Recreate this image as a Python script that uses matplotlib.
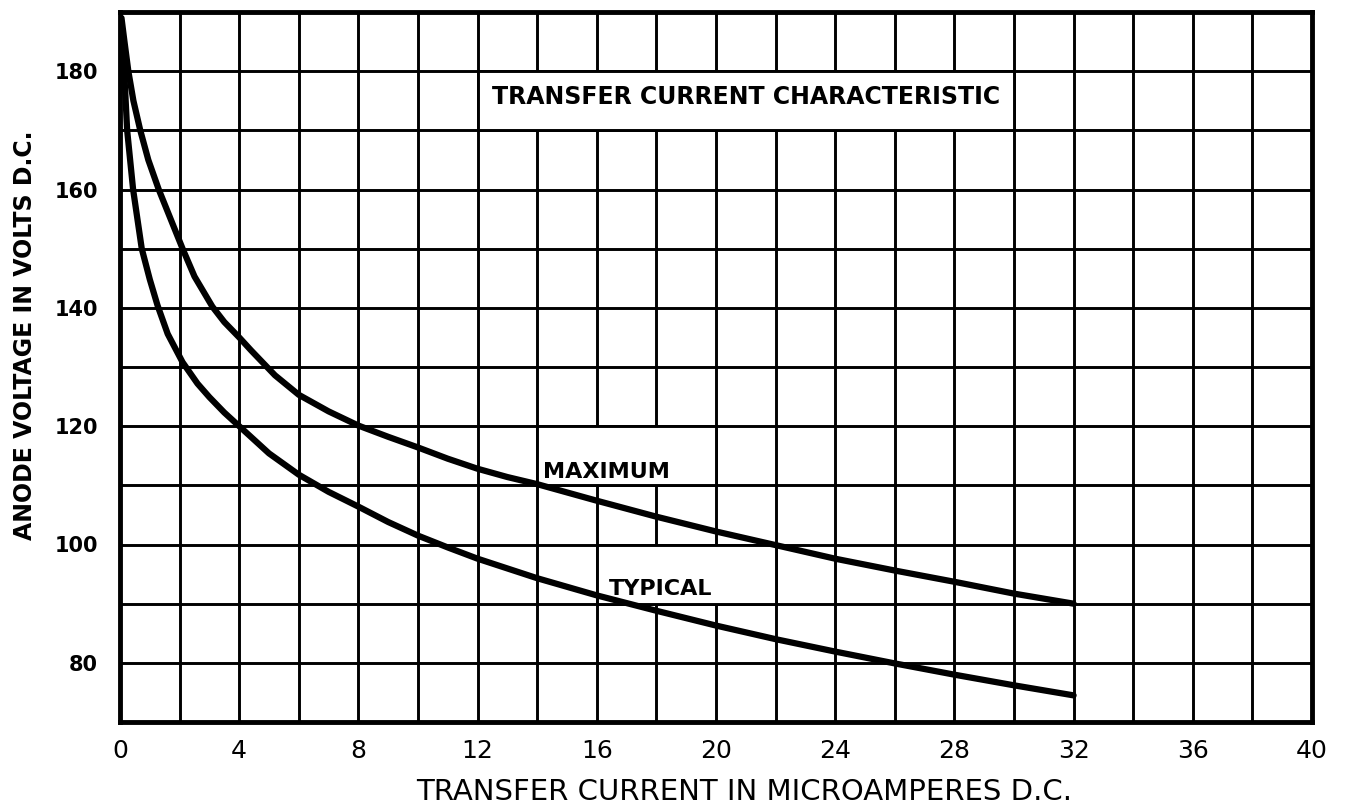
import numpy as np
import matplotlib
matplotlib.use("Agg")
import matplotlib.pyplot as plt
from matplotlib.patches import Rectangle

# ---- data ----
max_current = [0.05, 0.15, 0.28, 0.45, 0.68, 0.95, 1.3, 1.7, 2.1, 2.5, 3.1, 3.5, 4, 4.4, 5.2, 6, 7, 8, 9, 10,
               11, 12, 13, 14, 16, 18, 20, 22, 24, 26, 28, 30, 32]
max_voltage = [189, 185, 180, 175, 170, 165, 160, 155, 150, 145.3, 140.2, 137.6, 135.0, 132.8, 128.6, 125.3,
               122.5, 120.1, 118.2, 116.4, 114.5, 112.8, 111.4, 110.2, 107.4, 104.7,
               102.2, 99.9, 97.6, 95.6, 93.7, 91.7, 90.0]

typ_current = [0.05, 0.14, 0.24, 0.44, 0.73, 1.0, 1.26, 1.6, 2.1, 2.6, 3, 3.5, 4, 5, 6, 7, 8, 9, 10, 11, 12,
               14, 16, 18, 20, 22, 24, 26, 28, 30, 32]
typ_voltage = [188, 180, 170, 160, 150, 144.8, 140.4, 135.6, 130.8, 127.2, 124.9, 122.3, 120.0, 115.4, 111.8,
               108.9, 106.4, 103.8, 101.5, 99.5, 97.6, 94.3, 91.4, 88.8,
               86.3, 84.0, 81.9, 79.9, 78.0, 76.2, 74.5]

x_ticks = [0, 4, 8, 12, 16, 20, 24, 28, 32, 36, 40]
y_ticks = [80, 100, 120, 140, 160, 180]

title_text = "TRANSFER CURRENT CHARACTERISTIC"
x_label = "TRANSFER CURRENT IN MICROAMPERES D.C."
y_label = "ANODE VOLTAGE IN VOLTS D.C."

# ---- figure ----
fig = plt.figure(figsize=(13.63, 8.06), dpi=100)
ax = fig.add_axes([120 / 1363, 1 - 722 / 806, 1192 / 1363, 710 / 806])

ax.set_xlim(0, 40)
ax.set_ylim(70, 190)

ax.set_xticks(x_ticks)
ax.set_yticks(y_ticks)
ax.set_xticks(np.arange(0, 41, 2), minor=True)
ax.set_yticks(np.arange(70, 191, 10), minor=True)
ax.tick_params(which="both", length=0)
ax.tick_params(axis="x", pad=12, labelsize=18)
ax.tick_params(axis="y", pad=16, labelsize=15)
for lab in ax.get_yticklabels():
    lab.set_fontweight("bold")

ax.set_axisbelow(True)
ax.grid(which="both", color="black", linewidth=2.1)
for sp in ax.spines.values():
    sp.set_linewidth(3.5)
    sp.set_zorder(5)

# white label boxes (cover the grid inside, keep outline)
for (x0, y0, w, h) in [(12, 170, 18, 10), (14, 110, 6, 10), (16, 90, 6, 10)]:
    ax.add_patch(Rectangle((x0, y0), w, h, facecolor="white", edgecolor="black",
                           linewidth=2.1, zorder=1))

ax.plot(max_current, max_voltage, color="black", linewidth=4.5,
        solid_capstyle="round", solid_joinstyle="round", zorder=3)
ax.plot(typ_current, typ_voltage, color="black", linewidth=4.5,
        solid_capstyle="round", solid_joinstyle="round", zorder=3)

ax.text(21, 174.4, title_text, ha="center", va="baseline", fontsize=17,
        fontweight="bold", zorder=4)
ax.text(14.2, 111.3, "MAXIMUM", ha="left", va="baseline", fontsize=16,
        fontweight="bold", zorder=4)
ax.text(16.4, 91.5, "TYPICAL", ha="left", va="baseline", fontsize=16,
        fontweight="bold", zorder=4)

ax.set_xlabel(x_label, fontsize=21)
ax.xaxis.set_label_coords(0.524, -0.0986)
ax.xaxis.label.set_va("center")
ax.set_ylabel(y_label, fontsize=17, fontweight="bold")
ax.yaxis.set_label_coords(-0.0796, 0.545)
ax.yaxis.label.set_va("center")

fig.savefig("out.png", dpi=100, facecolor="white")
